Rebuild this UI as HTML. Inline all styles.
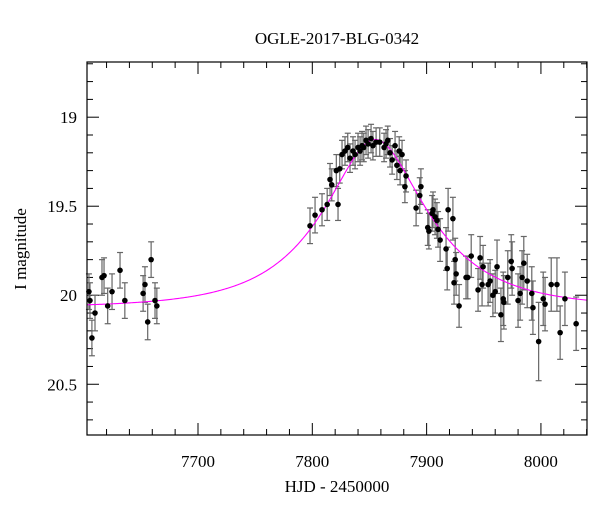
<!DOCTYPE html>
<html><head><meta charset="utf-8">
<style>
html,body{margin:0;padding:0;background:#fff;width:600px;height:512px;overflow:hidden}
svg text{font-family:"Liberation Serif",serif;fill:#000}
</style></head>
<body>
<svg id="chart" width="600" height="512" viewBox="0 0 600 512" xmlns="http://www.w3.org/2000/svg">
<text x="337" y="44" font-size="17" text-anchor="middle">OGLE-2017-BLG-0342</text>
<text x="337" y="492" font-size="17" text-anchor="middle">HJD - 2450000</text>
<text transform="translate(26,249) rotate(-90)" font-size="17" text-anchor="middle">I magnitude</text>
<g id="ticks"></g><g id="errs"></g><g id="model"></g><g id="pts"></g>
<rect x="87" y="62" width="500" height="373" fill="none" stroke="#000" stroke-width="1.2"/>
</svg>
<script>
const times=[7604.6,7605.5,7607.2,7609.9,7616,7617.8,7621,7624.8,7631.8,7636,7652,7653.6,7656,7659,7662.4,7664,
7798,7802.4,7808.5,7813,7815.5,7817,7821,7822.5,7824,7826,7828.6,7831,7833,7835.6,7837.4,7840,7841.8,7843.5,7845,7847,7848.8,7851.4,7853,7855.8,7859,7862.8,7864.5,7866,7868,7869.8,7872.4,7874,7876,7876.8,7878.5,7881,7882,
7890.8,7895,7894,7901,7902,7904.8,7905.6,7907.4,7909,7910,7911.8,7917,7918,7918.8,7923,7925,7925.8,7924,7928.4,7934.5,7936,7939,7945,7946.8,7948.5,7949.4,7953.8,7955.5,7958,7960,7961.6,7965,7967,7967.6,7971,7974,7974.8,7980,7981.8,7983.5,7985,7988,7992,7993,7998,8002,8003.6,8009,8014,8016.8,8021,8030.8];
const mags=[19.98,20.03,20.24,20.10,19.90,19.89,20.06,19.98,19.86,20.03,19.99,19.94,20.15,19.80,20.03,20.06,
19.61,19.55,19.52,19.49,19.35,19.38,19.30,19.49,19.29,19.21,19.19,19.17,19.23,19.19,19.21,19.17,19.19,19.16,19.17,19.13,19.15,19.12,19.16,19.14,19.14,19.17,19.15,19.13,19.20,19.24,19.16,19.27,19.19,19.30,19.21,19.39,19.33,
19.51,19.39,19.44,19.62,19.64,19.54,19.52,19.56,19.58,19.63,19.69,19.74,19.85,19.52,19.57,19.80,19.88,19.93,20.06,19.90,19.90,19.78,19.97,19.79,19.94,19.84,19.94,19.92,20.00,19.98,19.84,20.11,20.02,20.04,19.90,19.81,19.85,20.03,19.99,19.90,19.82,19.92,19.99,20.07,20.26,20.02,20.05,19.94,19.94,20.21,20.02,20.16];
const errs=[0.10,0.10,0.10,0.10,0.10,0.10,0.10,0.10,0.10,0.10,0.10,0.10,0.10,0.10,0.10,0.10,
0.10,0.10,0.09,0.09,0.09,0.09,0.09,0.09,0.08,0.08,0.08,0.08,0.08,0.08,0.08,0.08,0.08,0.08,0.08,0.08,0.08,0.08,0.08,0.08,0.08,0.08,0.08,0.08,0.08,0.08,0.08,0.08,0.08,0.08,0.08,0.09,0.09,
0.10,0.10,0.10,0.10,0.10,0.10,0.10,0.10,0.10,0.10,0.12,0.12,0.12,0.12,0.12,0.12,0.12,0.12,0.12,0.12,0.12,0.12,0.12,0.12,0.12,0.12,0.12,0.12,0.12,0.12,0.15,0.15,0.15,0.15,0.15,0.15,0.15,0.15,0.15,0.15,0.15,0.15,0.15,0.15,0.22,0.15,0.15,0.15,0.15,0.15,0.15,0.15];
const xTickLabels=[7700,7800,7900,8000];
const yTickLabels=[19,19.5,20,20.5];
const baseMag=20.07, t0=7855, tE=82, u0=0.45;

const NS="http://www.w3.org/2000/svg";
const X0=87,X1=587,Y0=62,Y1=435,tMin=7602.9,tMax=8040.3,mMin=18.69,mMax=20.785;
const xs=t=>X0+(t-tMin)/(tMax-tMin)*(X1-X0);
const ys=m=>Y0+(m-mMin)/(mMax-mMin)*(Y1-Y0);
function mk(tag,parent,attrs){const e=document.createElementNS(NS,tag);for(const k in attrs)e.setAttribute(k,attrs[k]);document.getElementById(parent).appendChild(e);return e;}

// x ticks
for(let t=7620;t<=8040;t+=20){
  const major=(t%100===0);const L=major?12:6;const x=xs(t);
  let e=mk('line','ticks',{x1:x,x2:x,y1:Y1,y2:Y1-L,stroke:'#000','stroke-width':1});
  
  e=mk('line','ticks',{x1:x,x2:x,y1:Y0,y2:Y0+L,stroke:'#000','stroke-width':1});
  
}
xTickLabels.forEach(v=>{const e=mk('text','ticks',{x:xs(v),y:467,'font-size':17,'text-anchor':'middle'});e.textContent=v;
  });
for(let i=19;i<=30;i++){const m=i/10*1;const mm=Math.round(m*10)/10+ (i<10?0:0);}
for(let k=187;k<=207;k++){
  const m=k/10;const major=(k%5===0);const L=major?12:6;const y=ys(m);
  if(y<Y0||y>Y1)continue;
  let e=mk('line','ticks',{x1:X0,x2:X0+L,y1:y,y2:y,stroke:'#000','stroke-width':1});
  
  e=mk('line','ticks',{x1:X1,x2:X1-L,y1:y,y2:y,stroke:'#000','stroke-width':1});
  
}
yTickLabels.forEach(v=>{const e=mk('text','ticks',{x:77,y:ys(v)+6,'font-size':17,'text-anchor':'end'});e.textContent=v;
  });

// model
let d='';
for(let t=tMin;t<=tMax;t+=1){const tau=(t-t0)/tE;const u=Math.sqrt(u0*u0+tau*tau);const A=(u*u+2)/(u*Math.sqrt(u*u+4));
  const m=baseMag-2.5*Math.log10(A);d+=(d?'L':'M')+xs(t).toFixed(2)+','+ys(m).toFixed(2);}
const ml=mk('path','model',{d:d,fill:'none',stroke:'#ff00ff','stroke-width':1.1});



// data
times.forEach((t,i)=>{
  const x=xs(t),ya=ys(mags[i]-errs[i]),yb=ys(mags[i]+errs[i]);
  const g=mk('g','errs',{stroke:'#666','stroke-width':1.2});
  
  
  const a=document.createElementNS(NS,'line');a.setAttribute('x1',x);a.setAttribute('x2',x);a.setAttribute('y1',ya);a.setAttribute('y2',yb);g.appendChild(a);
  [ya,yb].forEach(yy=>{const c=document.createElementNS(NS,'line');c.setAttribute('x1',x-3);c.setAttribute('x2',x+3);c.setAttribute('y1',yy);c.setAttribute('y2',yy);g.appendChild(c);});
  const p=mk('circle','pts',{cx:x,cy:ys(mags[i]),r:2.8,fill:'#000'});
  
  
});
</script>
</body></html>
